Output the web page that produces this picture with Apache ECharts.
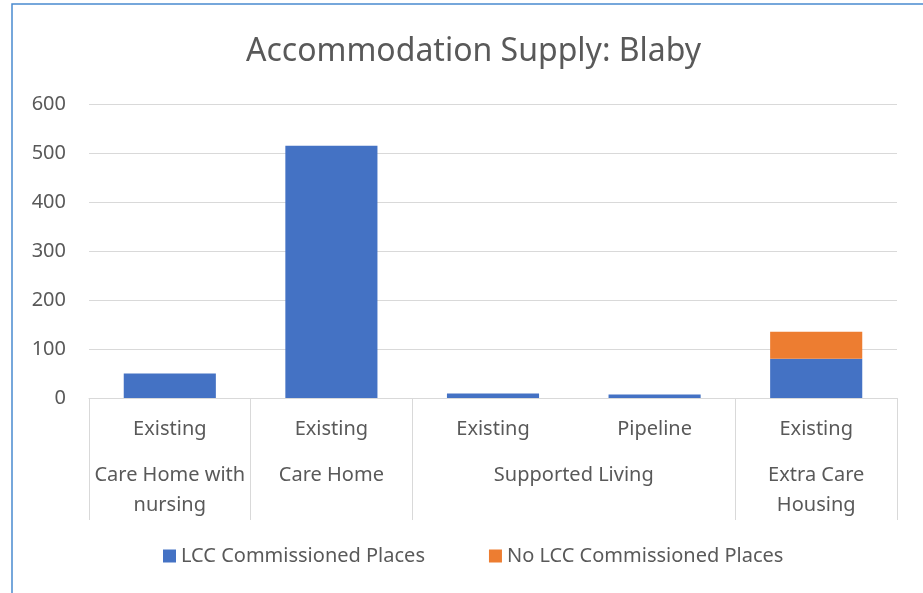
<!DOCTYPE html>
<html>
<head>
<meta charset="utf-8">
<script src="https://cdn.jsdelivr.net/npm/echarts@6/dist/echarts.min.js"></script>
<style>
  html, body { margin: 0; padding: 0; background: #fff; }
  #main { width: 923px; height: 593px; }
</style>
</head>
<body>
<div id="main"></div>
<script>
// data
var stages = ['Existing', 'Existing', 'Existing', 'Pipeline', 'Existing'];
var groups = ['Care Home with\nnursing', 'Care Home', 'Supported Living', 'Extra Care\nHousing'];
var groupBounds = [0, 1, 2, 4, 5];
var groupCentres = [0.5, 1.5, 3, 4.5];
var lccPlaces = [50, 515, 9, 7, 80];
var noLccPlaces = [0, 0, 0, 0, 55];
var yTicks = [0, 100, 200, 300, 400, 500, 600];

var font = 'Noto Sans';
var grey = '#595959';
var lineCol = '#d9d9d9';

var chart = echarts.init(document.getElementById('main'));
chart.setOption({
  animation: false,
  textStyle: { fontFamily: font },
  title: {
    text: 'Accommodation Supply: Blaby',
    left: 241,
    top: 31,
    textStyle: { fontFamily: font, fontSize: 32, fontWeight: 'normal', color: grey }
  },
  graphic: [{
    type: 'rect',
    shape: { x: 12, y: 4, width: 940, height: 620 },
    style: { fill: 'none', stroke: '#4a8ad0', lineWidth: 1.5 },
    silent: true
  }],
  legend: {
    bottom: 22,
    left: 158,
    itemWidth: 13,
    itemHeight: 13,
    itemGap: 64,
    icon: 'rect',
    textStyle: { fontFamily: font, fontSize: 20, color: grey }
  },
  grid: { left: 89, right: 26, top: 104, bottom: 195 },
  xAxis: [{
    type: 'category',
    data: stages,
    axisLine: { lineStyle: { color: lineCol } },
    axisTick: { show: false },
    axisLabel: { color: grey, fontSize: 20, margin: 21, interval: 0 }
  }, {
    type: 'value',
    min: 0,
    max: 5,
    position: 'bottom',
    axisLine: { show: false },
    splitLine: { show: false },
    axisTick: {
      show: true,
      length: 122,
      customValues: groupBounds,
      lineStyle: { color: lineCol }
    },
    axisLabel: {
      show: true,
      customValues: groupCentres,
      color: grey,
      fontSize: 20,
      lineHeight: 30,
      margin: 62,
      formatter: function (v) {
        var i = groupCentres.indexOf(v);
        return i >= 0 ? groups[i] : '';
      }
    }
  }],
  yAxis: {
    type: 'value',
    min: yTicks[0],
    max: yTicks[yTicks.length - 1],
    interval: 100,
    axisLine: { show: false },
    axisTick: { show: false },
    axisLabel: { color: grey, fontSize: 20, margin: 23 },
    splitLine: { lineStyle: { color: lineCol } }
  },
  series: [{
    name: 'LCC Commissioned Places',
    type: 'bar',
    stack: 'places',
    barWidth: '57%',
    itemStyle: { color: '#4472c4' },
    data: lccPlaces
  }, {
    name: 'No LCC Commissioned Places',
    type: 'bar',
    stack: 'places',
    barWidth: '57%',
    itemStyle: { color: '#ed7d31' },
    data: noLccPlaces
  }]
});
</script>
</body>
</html>
